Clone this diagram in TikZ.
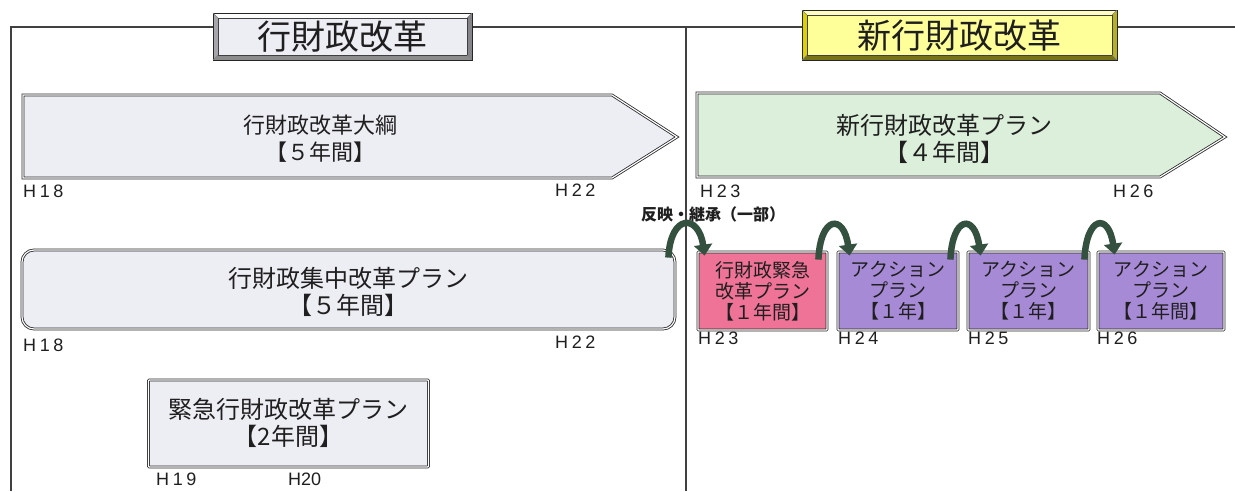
\documentclass[tikz,border=0pt]{standalone}
\usepackage{fontspec}
\setmainfont{Noto Sans CJK JP}
\newfontfamily\hfont[LetterSpace=20]{Liberation Sans}
\newfontfamily\hfontn{Liberation Sans}
\usetikzlibrary{arrows.meta,calc}
\definecolor{lav}{HTML}{EDEDF4}
\definecolor{mint}{HTML}{DCEFDB}
\definecolor{pinkc}{HTML}{EE7396}
\definecolor{purp}{HTML}{A78AD6}
\definecolor{ttlyel}{HTML}{FFFF99}
\definecolor{arcg}{HTML}{34503F}
\newcommand\mybevel[8]{%
  \fill[#5] (#1,#2) rectangle (#3,#4);
  \fill[#6] (#1,#2)--(#3,#2)--(#3-5,#2+5)--(#1+5,#2+5)--cycle;
  \fill[#7] (#1,#4)--(#3,#4)--(#3-5,#4-5)--(#1+5,#4-5)--cycle;
  \fill[#8] (#1,#2)--(#1+5,#2+5)--(#1+5,#4-5)--(#1,#4)--cycle;
  \fill[#8!80!black] (#3,#2)--(#3-5,#2+5)--(#3-5,#4-5)--(#3,#4)--cycle;
  \draw[black!85, line width=0.9pt] (#1,#2) rectangle (#3,#4);
  \draw[black!75, line width=0.7pt] (#1+5,#2+5) rectangle (#3-5,#4-5);
  \draw[black!50, line width=0.4pt] (#1,#2)--(#1+5,#2+5) (#3,#2)--(#3-5,#2+5) (#1,#4)--(#1+5,#4-5) (#3,#4)--(#3-5,#4-5);
}
\begin{document}
\begin{tikzpicture}[x=1pt,y=-1pt,
  every node/.style={text=black!88},
  frameline/.style={draw=black!75, line width=1.1pt},
  dbl/.style={draw=black!85, line width=0.8pt, double=white, double distance=1.2pt},
  yr/.style={font=\hfont\fontsize{18pt}{18pt}\selectfont, anchor=west, inner sep=0pt},
  yrn/.style={font=\hfontn\fontsize{18pt}{18pt}\selectfont, anchor=west, inner sep=0pt},
  bigtxt/.style={align=center, inner sep=0pt, font=\fontsize{24pt}{27pt}\selectfont},
  smallbox/.style={dbl, rounded corners=0.8pt, minimum height=78pt, inner sep=0pt, align=center, font=\fontsize{19pt}{21pt}\selectfont},
  arcst/.style={draw=arcg, line width=6.5pt, -{Triangle[width=18pt,length=11pt]}},
  ttl/.style={inner sep=0pt, font=\fontsize{34pt}{34pt}\selectfont}
]
\useasboundingbox (0,0) rectangle (1235,491);
\fill[white] (0,0) rectangle (1235,491);

% frame
\draw[frameline] (11,491) -- (11,27) -- (1235,27);
\draw[frameline] (686,27) -- (686,491);

% titles
\mybevel{213}{13}{472}{60}{lav}{white!90!lav}{black!45}{black!30!lav}
\node[ttl] (t1) at (342.5,37) {行財政改革};
\mybevel{802}{10}{1117}{60}{ttlyel}{yellow!25!white}{olive!80!black}{yellow!70!olive}
\node[ttl] (t2) at (959.5,35.5) {新行財政改革};

% big arrows
\draw[dbl, fill=lav] (23,95) -- (612,95) -- (677,137) -- (612,178) -- (23,178) -- cycle;
\node[bigtxt, font=\fontsize{22pt}{27pt}\selectfont] (taikou) at (320,139) {行財政改革大綱\\【５年間】};
\draw[dbl, fill=mint] (697,93) -- (1160,93) -- (1225,137) -- (1160,177) -- (697,177) -- cycle;
\node[bigtxt] (shinplan) at (944,139) {新行財政改革プラン\\【４年間】};

\node[yr] (h18a) at (23,191) {H18};
\node[yr] (h22a) at (555,190) {H22};
\node[yr] (h23a) at (700,191) {H23};
\node[yr] (h26a) at (1113,191) {H26};

% rounded box
\node[dbl, fill=lav, rounded corners=12pt, minimum width=653pt, minimum height=79pt, inner sep=0pt] (shuchu) at (348.5,289.5) {};
\node[bigtxt] (shuchutxt) at (348.5,292) {行財政集中改革プラン\\【５年間】};
\node[yr] (h18b) at (23,345) {H18};
\node[yr] (h22b) at (555,342) {H22};

% kinkyu box
\node[dbl, fill=lav, rounded corners=0.8pt, minimum width=280pt, minimum height=87pt, inner sep=0pt] (kinkyu) at (288.5,423.5) {};
\node[bigtxt] (kinkyutxt) at (288.5,423) {緊急行財政改革プラン\\【2年間】};
\node[yr] (h19) at (156,479) {H19};
\node[yrn] (h20) at (288,479) {H20};

% small boxes
\node[smallbox, fill=pinkc, minimum width=129pt] (p1) at (762.5,291) {行財政緊急\\改革プラン\\【１年間】};
\node[smallbox, fill=purp, minimum width=120pt] (p2) at (898,291) {アクション\\プラン\\【１年】};
\node[smallbox, fill=purp, minimum width=121pt] (p3) at (1028.5,291) {アクション\\プラン\\【１年】};
\node[smallbox, fill=purp, minimum width=126pt] (p4) at (1161,291) {アクション\\プラン\\【１年間】};

\node[yr] (h23b) at (698,338) {H23};
\node[yr] (h24) at (838,338) {H24};
\node[yr] (h25) at (968,338) {H25};
\node[yr] (h26b) at (1097,338) {H26};

\node[font=\bfseries\fontsize{16pt}{16pt}\selectfont, inner sep=0pt] (hanei) at (713,214) {反映・継承（一部）};

% curved arrows
\draw[arcst] ($(shuchu.north east)+(-7,8)$) .. controls +(2,-44) and +(-6,-42) .. ($(p1.north west)+(7,4)$);
\draw[arcst] ($(p1.north east)+(-9,8)$) .. controls +(2,-44) and +(-6,-42) .. ($(p2.north west)+(12,4)$);
\draw[arcst] ($(p2.north east)+(-8,8)$) .. controls +(2,-44) and +(-6,-42) .. ($(p3.north west)+(13,4)$);
\draw[arcst] ($(p3.north east)+(-5,8)$) .. controls +(2,-44) and +(-6,-42) .. ($(p4.north west)+(17,3)$);
\end{tikzpicture}
\end{document}
